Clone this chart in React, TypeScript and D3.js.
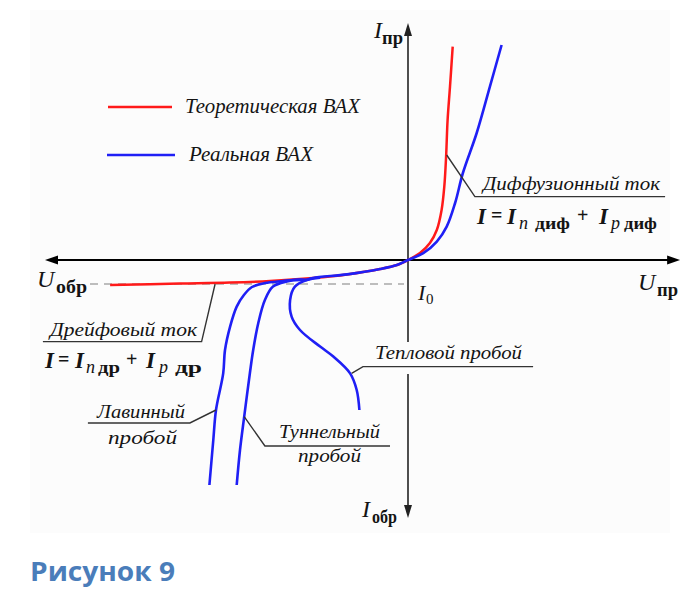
import * as d3 from 'd3'

// Current–voltage characteristic of a p-n junction (schematic, arbitrary units: U in V, I in mA)
const theoU = [-9.93, -7.6, -5.93, -4.6, -3.17, -2.03, -0.93, -0.37, 0, 0.4, 0.73, 0.96, 1.12, 1.21, 1.27, 1.32, 1.4, 1.49]
const theoI = [-1.25, -1.18, -1.13, -1.05, -0.9, -0.72, -0.45, -0.25, 0, 0.35, 0.85, 1.5, 2.5, 3.67, 5.17, 7.0, 8.67, 10.67]

const realU = [-3.37, -3.17, -2.03, -0.93, -0.37, 0, 0.51, 0.96, 1.29, 1.57, 1.83, 2.29, 2.73, 3.12]
const realI = [-1.0, -0.9, -0.72, -0.45, -0.25, 0, 0.34, 0.92, 1.67, 2.85, 4.35, 6.35, 8.67, 10.75]

const avalancheU = [-3.37, -3.83, -4.17, -4.77, -5.2, -5.47, -5.71, -5.93, -6.1, -6.16, -6.4, -6.49, -6.62]
const avalancheI = [-1.0, -1.0, -1.05, -1.15, -1.35, -1.75, -2.33, -3.33, -4.5, -5.67, -7.5, -9.0, -11.25]

const tunnelU = [-3.37, -3.6, -4.04, -4.5, -4.77, -4.99, -5.16, -5.27, -5.46, -5.6, -5.71]
const tunnelI = [-1.0, -0.98, -1.07, -1.33, -2.0, -3.15, -4.5, -5.65, -7.83, -9.5, -11.25]

const thermalU = [-2.93, -3.38, -3.77, -3.93, -3.88, -3.6, -2.93, -2.49, -1.93, -1.71, -1.62]
const thermalI = [-0.88, -1.0, -1.33, -2.0, -2.83, -3.5, -4.33, -4.83, -5.67, -6.5, -7.5]

const I0 = -1.2
const U_AXIS = [-12.1, 9.07]
const I_AXIS = [-12.9, 11.85]

const legendNames = ['Теоретическая ВАХ', 'Реальная ВАХ']

const RED = '#FF1A1A'
const BLUE = '#1F1FF5'
const SERIF = "'Liberation Serif', 'DejaVu Serif', 'Noto Serif', Times, serif"
const INK = '#141414'

const zip = (u: number[], i: number[]) => u.map((v, k) => [v, i[k]] as [number, number])

export default function App() {
  const W = 689
  const H = 596
  const x = d3.scaleLinear().domain([-12, 9]).range([48, 678])
  const y = d3.scaleLinear().domain([-13, 12]).range([520, 20])
  const line = d3.line<[number, number]>().x(d => x(d[0])).y(d => y(d[1])).curve(d3.curveCatmullRom.alpha(0.5))
  const poly = d3.line<[number, number]>().x(d => x(d[0])).y(d => y(d[1]))

  const x0 = x(0), y0 = y(0)
  const xl = x(U_AXIS[0]), xr = x(U_AXIS[1])
  const yt = y(I_AXIS[1]), yb = y(I_AXIS[0])

  // leader lines in data units
  const leaders: [number, number][][] = [
    [[1.29, 5.25], [2.23, 3.17], [8.57, 3.17]],
    [[-6.43, -1.2], [-6.88, -4.08], [-12.17, -4.08]],
    [[-6.4, -7.5], [-7.27, -8.15], [-10.67, -8.15]],
    [[-5.46, -7.83], [-4.77, -9.3], [-0.6, -9.3]],
    [[-1.88, -5.67], [-1.5, -5.33], [4.17, -5.33]],
  ]

  const t = (s: string, px: number, py: number, o: any = {}) => (
    <text x={px} y={py} fill={INK}
      style={{ fontFamily: SERIF, fontSize: o.size ?? 18, fontStyle: o.italic === false ? 'normal' : 'italic', fontWeight: o.bold ? 700 : 400 }}
      textLength={o.len} lengthAdjust={o.len ? 'spacingAndGlyphs' : undefined}>{s}</text>
  )

  return (
    <svg width={W} height={H} style={{ position: 'absolute', left: 0, top: 0, background: '#fff' }}>
      <rect x={30} y={10} width={640} height={523} fill="#FCFCFC" />

      {/* I0 level */}
      <line x1={90} x2={x0 - 4} y1={y(I0)} y2={y(I0)} stroke="#A8A8A8" strokeWidth={1.5} strokeDasharray="8,6" />

      {/* axes */}
      <line x1={xl + 8} x2={xr - 8} y1={y0} y2={y0} stroke="#000" strokeWidth={2} />
      <path d={`M${xr},${y0}L${xr - 13},${y0 - 4.5}L${xr - 13},${y0 + 4.5}Z`} fill="#000" />
      <path d={`M${xl},${y0}L${xl + 13},${y0 - 4.5}L${xl + 13},${y0 + 4.5}Z`} fill="#000" />
      <line x1={x0} x2={x0} y1={yt + 8} y2={yb - 8} stroke="#222" strokeWidth={1.6} />
      <path d={`M${x0},${yt}L${x0 - 4},${yt + 13}L${x0 + 4},${yt + 13}Z`} fill="#222" />
      <path d={`M${x0},${yb}L${x0 - 4},${yb - 13}L${x0 + 4},${yb - 13}Z`} fill="#222" />

      {/* curves */}
      <path d={line(zip(theoU, theoI)) ?? ''} fill="none" stroke={RED} strokeWidth={2.5} />
      <path d={line(zip(avalancheU, avalancheI)) ?? ''} fill="none" stroke={BLUE} strokeWidth={2.6} />
      <path d={line(zip(tunnelU, tunnelI)) ?? ''} fill="none" stroke={BLUE} strokeWidth={2.6} />
      <path d={line(zip(thermalU, thermalI)) ?? ''} fill="none" stroke={BLUE} strokeWidth={2.6} />
      <path d={line(zip(realU, realI)) ?? ''} fill="none" stroke={BLUE} strokeWidth={2.6} />

      {/* white patch behind thermal label crossing the axis */}
      <rect x={372} y={342} width={158} height={32} fill="#FCFCFC" />

      {leaders.map((pts, k) => (
        <path key={k} d={poly(pts) ?? ''} fill="none" stroke="#333" strokeWidth={1.4} />
      ))}

      {/* legend */}
      <line x1={108} x2={172} y1={107} y2={107} stroke={RED} strokeWidth={2.4} />
      <line x1={107} x2={175} y1={155} y2={155} stroke={BLUE} strokeWidth={2.6} />
      {t(legendNames[0], 185, 113, { size: 20, len: 175 })}
      {t(legendNames[1], 189, 161, { size: 20, len: 124 })}

      {/* annotations */}
      {t('Диффузионный ток', 483, 190, { size: 18, len: 177 })}
      {t('Дрейфовый ток', 50, 336, { size: 18, len: 147 })}
      {t('Лавинный', 97, 418, { size: 18, len: 88 })}
      {t('пробой', 108, 444, { size: 18, len: 69 })}
      {t('Туннельный', 279, 438, { size: 18, len: 101 })}
      {t('пробой', 298, 462, { size: 18, len: 63 })}
      {t('Тепловой пробой', 375, 359, { size: 18, len: 147 })}

      {/* formulas */}
      {t('I', 477, 224, { size: 23, bold: true })}
      {t('=', 491, 222, { size: 20, italic: false, bold: true })}
      {t('I', 507, 224, { size: 23, bold: true })}
      {t('n', 519, 229, { size: 18 })}
      {t('диф', 535, 229, { size: 17, italic: false, bold: true, len: 35 })}
      {t('+', 577, 222, { size: 20, italic: false, bold: true })}
      {t('I', 599, 224, { size: 23, bold: true })}
      {t('p', 611, 229, { size: 18 })}
      {t('диф', 624, 229, { size: 17, italic: false, bold: true, len: 33 })}

      {t('I', 45, 368, { size: 23, bold: true })}
      {t('=', 58, 366, { size: 20, italic: false, bold: true })}
      {t('I', 75, 368, { size: 23, bold: true })}
      {t('n', 86, 373, { size: 18 })}
      {t('др', 98, 373, { size: 17, italic: false, bold: true, len: 22 })}
      {t('+', 126, 366, { size: 20, italic: false, bold: true })}
      {t('I', 146, 368, { size: 23, bold: true })}
      {t('p', 159, 373, { size: 18 })}
      {t('др', 175, 373, { size: 17, italic: false, bold: true, len: 27 })}

      {/* axis labels */}
      {t('U', 37, 287, { size: 24 })}
      {t('обр', 56, 293, { size: 18, italic: false, bold: true, len: 31 })}
      {t('U', 638, 290, { size: 24 })}
      {t('пр', 657, 296, { size: 18, italic: false, bold: true, len: 21 })}
      {t('I', 374, 38, { size: 24 })}
      {t('пр', 382, 44, { size: 18, italic: false, bold: true, len: 21 })}
      {t('I', 362, 517, { size: 24 })}
      {t('обр', 372, 523, { size: 18, italic: false, bold: true, len: 25 })}
      {t('I', 418, 300, { size: 22 })}
      {t('0', 426, 304, { size: 15, italic: false })}

      <text x={30} y={581} fill="#4A7DBA" textLength={145} lengthAdjust="spacingAndGlyphs"
        style={{ fontFamily: "'Open Sans', 'Noto Sans', sans-serif", fontWeight: 700, fontSize: 26 }}>Рисунок 9</text>
    </svg>
  )
}
